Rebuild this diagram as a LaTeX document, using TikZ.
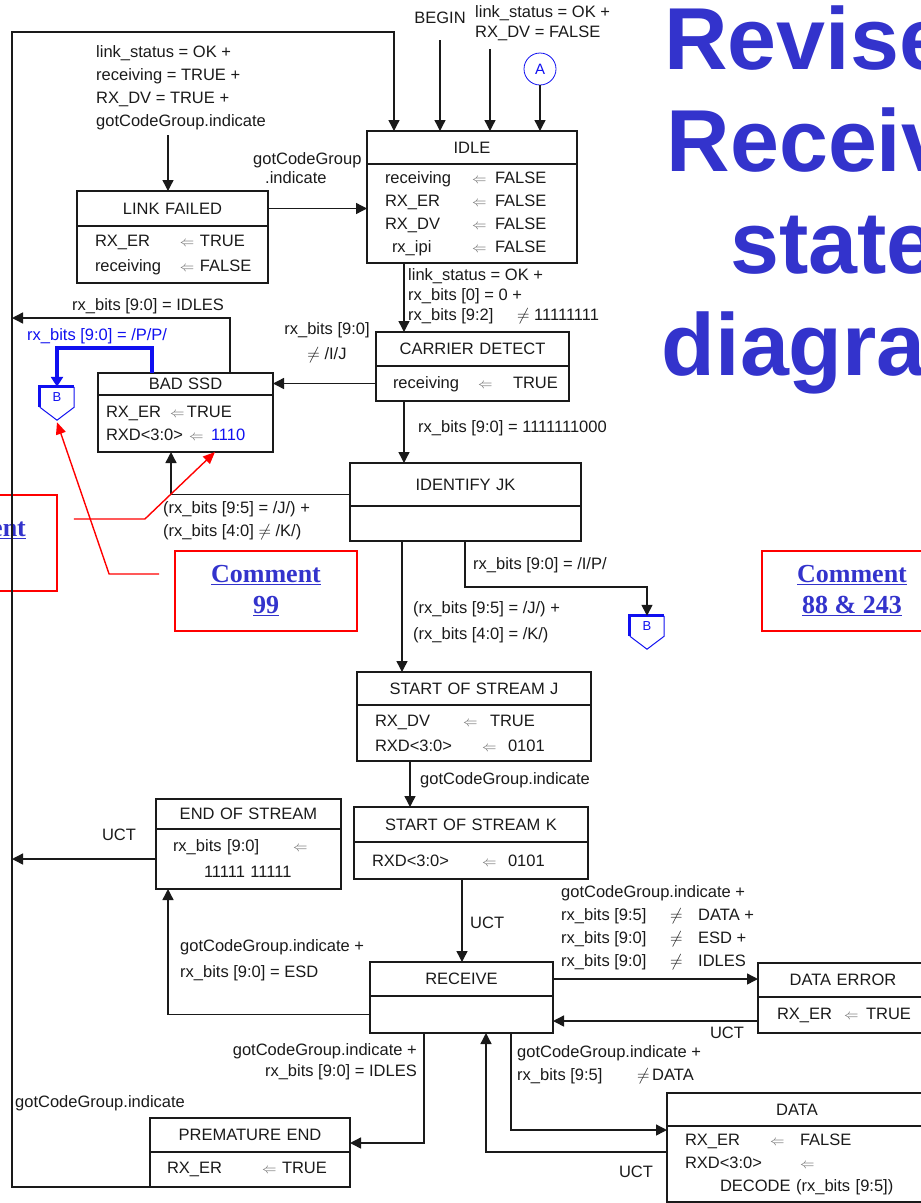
\documentclass[tikz,border=0pt]{standalone}
\usepackage{fontspec}
\setmainfont{Liberation Sans}
\newfontfamily\cmtfont{Liberation Serif}
\usetikzlibrary{arrows.meta, positioning}
\definecolor{ttlblue}{HTML}{3333CC}
\definecolor{mkblue}{HTML}{1010F0}
\definecolor{cmred}{HTML}{FF0000}
\definecolor{ink}{HTML}{1A1A1A}
\newcommand{\asgn}{\leavevmode\textcolor{ink!65}{\fontsize{14}{14}\selectfont$\Leftarrow$}}

\begin{document}
\begin{tikzpicture}[x=1pt, y=-1pt,
        ttl/.style={draw=ink, line width=1.5pt, outer sep=0pt, inner xsep=0pt, inner ysep=0pt, align=center, font=\fontsize{16.5}{23}\selectfont, text=ink},
        bdy/.style={ttl, align=left},
        lbl/.style={inner sep=0pt, align=left, font=\fontsize{16.5}{23}\selectfont, text=ink},
        line/.style={-{Triangle[length=11pt,width=11pt]}, line width=1.4pt, ink},
        bline/.style={-{Triangle[length=10pt,width=12pt]}, line width=3.5pt, mkblue},
        bmark/.style={text=mkblue, font=\fontsize{13}{13}\selectfont, inner sep=0pt, minimum width=34pt, minimum height=20pt},
        cmbox/.style={draw=cmred, line width=1.8pt, font=\cmtfont\fontsize{26}{31}\selectfont\bfseries, text=ttlblue, align=center, inner sep=0pt},
        cmline/.style={-{Triangle[length=12pt,width=10pt]}, line width=1.4pt, cmred}
    ]
        \useasboundingbox (0,0) rectangle (921,1203);

        % states
        \node (idle) [ttl, anchor=north west, text width=210pt, minimum height=33pt] at (367,131) {IDLE};
        \node (idleb) [bdy, below=0pt of idle, text width=210pt, minimum height=99pt] {\begin{tabular}{@{\hspace{18pt}}p{87pt}@{}p{23pt}@{}l@{}}receiving & \asgn & FALSE\\ RX\_ER & \asgn & FALSE\\ RX\_DV & \asgn & FALSE\\ \hspace*{7pt}rx\_ipi & \asgn & FALSE\end{tabular}};

        \node (lf) [ttl, anchor=north west, text width=191pt, minimum height=35pt] at (77,191) {LINK FAILED};
        \node (lfb) [bdy, below=0pt of lf, text width=191pt, minimum height=57pt] {\begin{tabular}{@{\hspace{18pt}}p{85pt}@{}p{20pt}@{}l@{}}RX\_ER & \asgn & TRUE\\[2pt] receiving & \asgn & FALSE\end{tabular}};

        \node (cd) [ttl, anchor=north west, text width=193pt, minimum height=34pt] at (376,332) {CARRIER DETECT};
        \node (cdb) [bdy, below=0pt of cd, text width=193pt, minimum height=35pt] {\begin{tabular}{@{\hspace{17pt}}p{85pt}@{}p{35pt}@{}l@{}}receiving & \asgn & TRUE\end{tabular}};

        \node (bad) [ttl, anchor=north west, text width=175pt, minimum height=22pt] at (98,373) {BAD SSD};
        \node (badb) [bdy, below=0pt of bad, text width=175pt, minimum height=57pt] {\hspace*{8pt}\makebox[64pt][l]{RX\_ER}\makebox[17pt][l]{\asgn}TRUE\\ \hspace*{8pt}\makebox[83pt][l]{RXD<3:0>}\makebox[22pt][l]{\asgn}\textcolor{mkblue}{1110}};

        \node (ijk) [ttl, anchor=north west, text width=231pt, minimum height=43pt] at (350,463) {IDENTIFY JK};
        \node (ijkb) [bdy, below=0pt of ijk, text width=231pt, minimum height=35pt] {};

        \node (sosj) [ttl, anchor=north west, text width=234pt, minimum height=33pt] at (357,672) {START OF STREAM J};
        \node (sosjb) [bdy, below=0pt of sosj, text width=234pt, minimum height=56pt] {\hspace*{18pt}\makebox[88pt][l]{RX\_DV}\makebox[27pt][l]{\asgn}TRUE\\[2pt] \hspace*{18pt}\makebox[107pt][l]{RXD<3:0>}\makebox[26pt][l]{\asgn}0101};

        \node (eos) [ttl, anchor=north west, text width=185pt, minimum height=30pt] at (156,799) {END OF STREAM};
        \node (eosb) [bdy, below=0pt of eos, text width=185pt, minimum height=60pt] {\hspace*{17pt}\makebox[120pt][l]{rx\_bits [9:0]}\asgn\\[3pt] \hspace*{48pt}11111 11111};

        \node (sosk) [ttl, anchor=north west, text width=234pt, minimum height=35pt] at (354,807) {START OF STREAM K};
        \node (soskb) [bdy, below=0pt of sosk, text width=234pt, minimum height=37pt] {\hspace*{18pt}\makebox[110pt][l]{RXD<3:0>}\makebox[26pt][l]{\asgn}0101};

        \node (rcv) [ttl, anchor=north west, text width=183pt, minimum height=34pt] at (370,962) {RECEIVE};
        \node (rcvb) [bdy, below=0pt of rcv, text width=183pt, minimum height=37pt] {};

        \node (de) [ttl, anchor=north west, text width=170pt, minimum height=34pt] at (758,963) {DATA ERROR};
        \node (deb) [bdy, below=0pt of de, text width=170pt, minimum height=36pt] {\hspace*{19pt}\makebox[67pt][l]{RX\_ER}\makebox[22pt][l]{\asgn}TRUE};

        \node (pe) [ttl, anchor=north west, text width=200pt, minimum height=34pt] at (150,1118) {PREMATURE END};
        \node (peb) [bdy, below=0pt of pe, text width=200pt, minimum height=35pt] {\hspace*{17pt}\makebox[95pt][l]{RX\_ER}\makebox[20pt][l]{\asgn}TRUE};

        \node (data) [ttl, anchor=north west, text width=260pt, minimum height=33pt] at (667,1093) {DATA};
        \node (datab) [bdy, below=0pt of data, text width=260pt, minimum height=76pt] {\hspace*{18pt}\makebox[85pt][l]{RX\_ER}\makebox[30pt][l]{\asgn}FALSE\\ \hspace*{18pt}\makebox[115pt][l]{RXD<3:0>}\asgn\\ \hspace*{53pt}DECODE (rx\_bits [9:5])};

        % connectors, markers, title
        \node (ca) [circle, draw=mkblue, line width=0.8pt, minimum size=32pt, inner sep=0pt, text=mkblue, font=\fontsize{15}{15}\selectfont] at (540,69) {A};
        \node (bm1) [bmark] at (57,397) {B};
        \node (bm2) [bmark] at (647,626) {B};
        \draw [mkblue, line width=1pt] (bm1.south west) -- ([yshift=-13pt]bm1.south) -- (bm1.south east) -- (bm1.north east);
        \draw [mkblue, line width=3pt] (bm1.south west) -- (bm1.north west) -- (bm1.north east);
        \draw [mkblue, line width=1pt] (bm2.south west) -- ([yshift=-13pt]bm2.south) -- (bm2.south east) -- (bm2.north east);
        \draw [mkblue, line width=3pt] (bm2.south west) -- (bm2.north west) -- (bm2.north east);

        \node (title) [anchor=north, inner sep=0pt, align=center, text=ttlblue, font=\fontsize{88}{102}\selectfont\bfseries] at (833,6) {Revised\\Receive\\state\\diagram};

        \node (cmA) [cmbox, minimum width=172pt, minimum height=96pt] at (-29,543) {\underline{Comment}\\\mbox{}};
        \node (cm99) [cmbox, minimum width=182pt, minimum height=80pt] at (266,591) {\underline{Comment}\\\underline{99}};
        \node (cm88) [cmbox, minimum width=180pt, minimum height=80pt] at (852,591) {\underline{Comment}\\\underline{88 \& 243}};

        \node (lfcond) [lbl, anchor=west] at (96,88) {link\_status = OK +\\receiving = TRUE +\\RX\_DV = TRUE +\\gotCodeGroup.indicate};
        \node (lfgo) [lbl, anchor=west] at (253,168) {gotCodeGroup\\[-4pt]\hspace*{12pt}.indicate};
        \node (begin) [lbl] at (440,18) {BEGIN};
        \node (lsok) [lbl, anchor=west] at (475,23) {link\_status = OK +\\[-3pt]RX\_DV = FALSE};
        \node (cdgo) [lbl, anchor=west] at (408,296) {link\_status = OK +\\[-3pt]rx\_bits [0] = 0 +\\[-3pt]\makebox[109pt][l]{rx\_bits [9:2]}$\neq$ 11111111};
        \node (badgo) [lbl, align=center] at (327,343) {rx\_bits [9:0]\\[2pt]$\neq$ /I/J};
        \node (idles) [lbl, anchor=west] at (72,306) {rx\_bits [9:0] = IDLES};
        \node (ppp) [lbl, anchor=west, text=mkblue] at (27,336) {rx\_bits [9:0] = /P/P/};
        \node (jkgo) [lbl, anchor=west] at (418,428) {rx\_bits [9:0] = 1111111000};
        \node (jkbad) [lbl, anchor=west] at (163,521) {(rx\_bits [9:5] = /J/) +\\(rx\_bits [4:0] $\neq$ /K/)};
        \node (ip) [lbl, anchor=west] at (473,565) {rx\_bits [9:0] = /I/P/};
        \node (jkok) [lbl, anchor=west] at (413,622) {(rx\_bits [9:5] = /J/) +\\[3pt](rx\_bits [4:0] = /K/)};
        \node (kgo) [lbl, anchor=west] at (420,780) {gotCodeGroup.indicate};
        \node (uct1) [lbl] at (119,835) {UCT};
        \node (uct2) [lbl, anchor=west] at (470,923) {UCT};
        \node (esd) [lbl, anchor=west] at (180,960) {gotCodeGroup.indicate +\\[3pt]rx\_bits [9:0] = ESD};
        \node (errgo) [lbl, anchor=west] at (561,928) {gotCodeGroup.indicate +\\\makebox[109pt][l]{rx\_bits [9:5]}\makebox[28pt][l]{$\neq$}DATA +\\\makebox[109pt][l]{rx\_bits [9:0]}\makebox[28pt][l]{$\neq$}ESD +\\\makebox[109pt][l]{rx\_bits [9:0]}\makebox[28pt][l]{$\neq$}IDLES};
        \node (uct3) [lbl] at (727,1033) {UCT};
        \node (idl2) [lbl, align=right, anchor=east] at (417,1062) {gotCodeGroup.indicate +\\[-2pt]rx\_bits [9:0] = IDLES};
        \node (dgo) [lbl, anchor=west] at (517,1065) {gotCodeGroup.indicate +\\\makebox[120pt][l]{rx\_bits [9:5]}\makebox[15pt][l]{$\neq$}DATA};
        \node (uct4) [lbl] at (636,1172) {UCT};
        \node (peg) [lbl, anchor=west] at (15,1103) {gotCodeGroup.indicate};

        \coordinate (tl) at (12,32);
        \coordinate (o1) at (12,318);
        \coordinate (s1) at ([xshift=15pt,yshift=-8pt]lsok.south west);
        \coordinate (s2) at (168,135);
        \coordinate (s3) at ([xshift=37pt]idleb.south west);
        \coordinate (s4) at ([xshift=132pt]bad.north west);
        \coordinate (s5) at ([xshift=54pt]bad.north west);
        \coordinate (s6) at ([xshift=28pt]cdb.south west);
        \coordinate (s7) at ([xshift=115pt]ijkb.south west);
        \coordinate (s8) at ([xshift=52pt]ijkb.south west);
        \coordinate (s9) at ([xshift=53pt]sosjb.south west);
        \coordinate (s10) at ([xshift=108pt]soskb.south west);
        \coordinate (s11) at ([yshift=-6pt]deb.west);

        \draw [line] (peb.south west) -| (tl) -| ([xshift=27pt]idle.north west);
        \draw [line] ([yshift=-16pt]begin.south) -- (begin |- idle.north);
        \draw [line] (s1) -- (s1 |- idle.north);
        \draw [line] (ca) -- (ca |- idle.north);
        \draw [line] (s2) -- (s2 |- lf.north);
        \draw [line] (lf.east) -- (lf.east -| idleb.west);
        \draw [line] (s3) -- (s3 |- cd.north);
        \draw [line] (cdb.west) -- (cdb.west -| bad.east);
        \draw [line] (s4) |- (o1);
        \draw [bline] (s5) -- ++(0,-25) -| (bm1.north);
        \draw [line] ([yshift=-10pt]ijk.west) -| ([xshift=73pt]badb.south west);
        \draw [line] (s6) -- (s6 |- ijk.north);
        \draw [line] (s7) -- ++(0,46) -| (bm2.north);
        \draw [line] (s8) -- (s8 |- sosj.north);
        \draw [line] (s9) -- (s9 |- sosk.north);
        \draw [line] (s10) -- (s10 |- rcv.north);
        \draw [line] (eosb.west) -- (eosb.west -| tl);
        \draw [line] (rcvb.west) -| ([xshift=12pt]eosb.south west);
        \draw [line] (rcv.east) -- (rcv.east -| de.west);
        \draw [line] (s11) -- (s11 -| rcvb.east);
        \draw [line] ([xshift=54pt]rcvb.south west) |- ([yshift=-8pt]pe.east);
        \draw [line] ([xshift=141pt]rcvb.south west) |- ([yshift=-4pt]data.south west);
        \draw [line] ([yshift=-26pt]data.south west) -| ([xshift=116pt]rcvb.south west);

        \draw [cmline] ([xshift=16pt,yshift=24pt]cmA.east) -- ++(71,0) -- ([xshift=117pt]badb.south west);
        \draw [cmline] ([xshift=-15pt,yshift=17pt]cm99.west) -- ++(-50,0) -- ([yshift=-15pt]bm1.south);
    \end{tikzpicture}
\end{document}
